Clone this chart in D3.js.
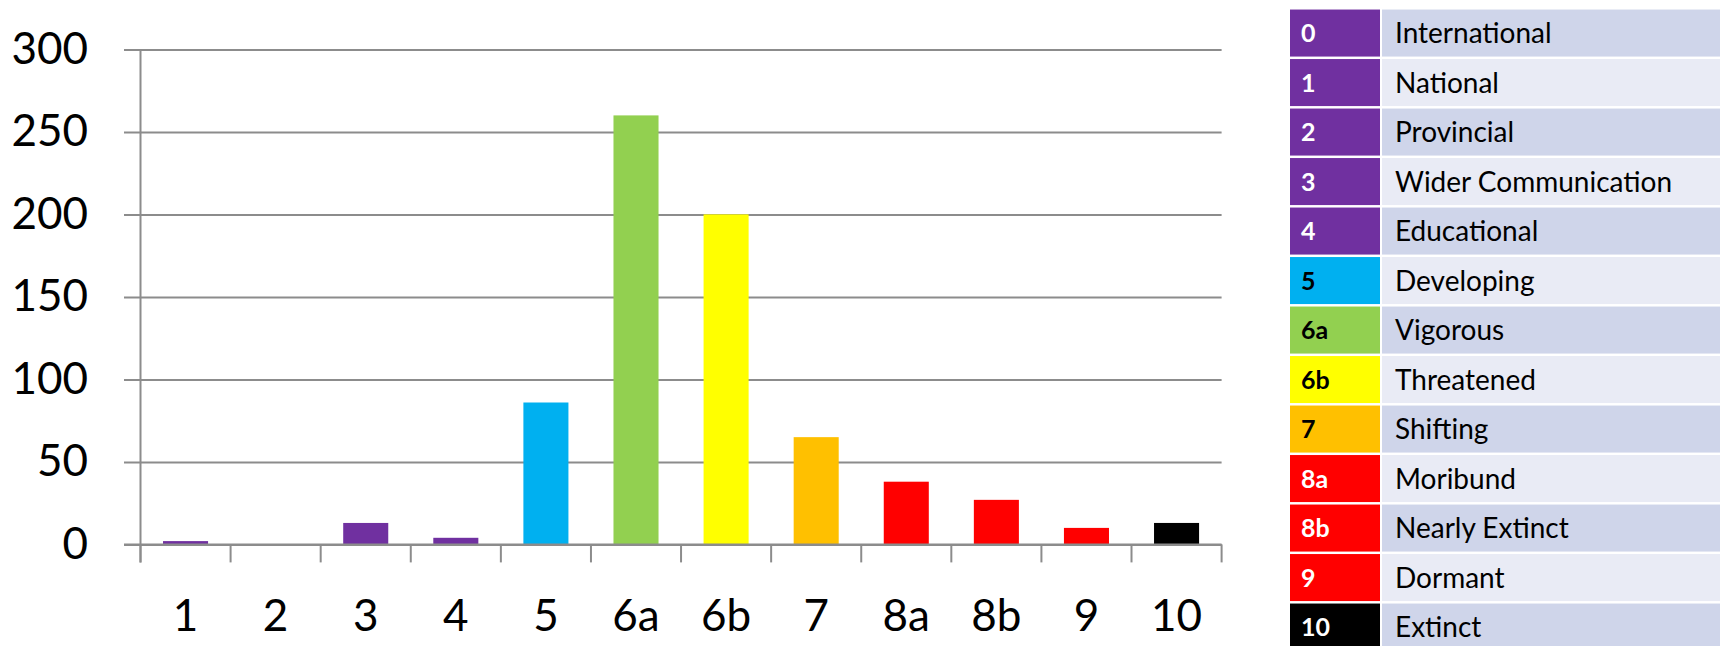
<!DOCTYPE html>
<html>
<head>
<meta charset="utf-8">
<script src="https://cdn.jsdelivr.net/npm/d3@7"></script>
<style>
  html, body { margin: 0; padding: 0; background: #fff; }
  svg { display: block; font-family: Lato, "Open Sans", sans-serif; }
</style>
</head>
<body>
<div id="chart"></div>
<script>
// data
var categories = ["1", "2", "3", "4", "5", "6a", "6b", "7", "8a", "8b", "9", "10"];
var counts = [2, 0, 13, 4, 86, 260, 200, 65, 38, 27, 10, 13];
var yTicks = [0, 50, 100, 150, 200, 250, 300];

// legend table (EGIDS levels)
var legendCodes = ["0", "1", "2", "3", "4", "5", "6a", "6b", "7", "8a", "8b", "9", "10"];
var legendNames = ["International", "National", "Provincial", "Wider Communication", "Educational",
                   "Developing", "Vigorous", "Threatened", "Shifting", "Moribund",
                   "Nearly Extinct", "Dormant", "Extinct"];

// colour for each level
var levelColor = {
  "0": "#7030a0", "1": "#7030a0", "2": "#7030a0", "3": "#7030a0", "4": "#7030a0",
  "5": "#00b0f0", "6a": "#92d050", "6b": "#ffff00", "7": "#ffc000",
  "8a": "#ff0000", "8b": "#ff0000", "9": "#ff0000", "10": "#000000"
};
var darkText = ["5", "6a", "6b", "7"];

// svg container
var svgWidth = 1721;
var svgHeight = 646;

var svg = d3.select("#chart")
            .append("svg")
            .attr("width", svgWidth)
            .attr("height", svgHeight);

// chart area
var plot = { left: 140.5, right: 1221.6, top: 49.4, bottom: 544.4 };
var axisColor = "#8c8c8c";

var yScale = d3.scaleLinear()
               .domain([0, 300])
               .range([plot.bottom, plot.top]);

var xScale = d3.scaleBand()
               .domain(categories)
               .range([plot.left, plot.right])
               .paddingInner(0.5)
               .paddingOuter(0.25);

// gridlines + y labels: axis placed on the right so the ticks run leftwards
var yAxis = d3.axisLeft(yScale)
              .tickValues(yTicks)
              .tickSize(plot.right - 124)
              .tickPadding(36);

var yG = svg.append("g")
            .attr("transform", `translate(${plot.right}, 0)`)
            .call(yAxis);
yG.select(".domain").remove();
yG.selectAll("line").attr("stroke", axisColor).attr("stroke-width", 2);
yG.selectAll("text")
  .attr("font-size", 44)
  .attr("font-family", "Lato, sans-serif")
  .attr("fill", "#000");

// y axis line
svg.append("line")
   .attr("x1", plot.left).attr("x2", plot.left)
   .attr("y1", plot.top).attr("y2", plot.bottom + 18)
   .attr("stroke", axisColor)
   .attr("stroke-width", 2);

// bars
svg.selectAll(".bar")
   .data(counts)
   .enter()
   .append("rect")
   .classed("bar", true)
   .attr("x", (d, i) => xScale(categories[i]))
   .attr("y", d => yScale(d))
   .attr("width", xScale.bandwidth())
   .attr("height", d => yScale(0) - yScale(d))
   .attr("fill", (d, i) => levelColor[categories[i]]);

// category boundary ticks
var boundaries = d3.range(categories.length + 1);
svg.selectAll(".xtick")
   .data(boundaries)
   .enter()
   .append("line")
   .attr("x1", i => plot.left + i * xScale.step())
   .attr("x2", i => plot.left + i * xScale.step())
   .attr("y1", plot.bottom)
   .attr("y2", plot.bottom + 18)
   .attr("stroke", axisColor)
   .attr("stroke-width", 2);

// redraw the zero line on top of the bars
svg.append("line")
   .attr("x1", 124).attr("x2", plot.right)
   .attr("y1", yScale(0)).attr("y2", yScale(0))
   .attr("stroke", axisColor)
   .attr("stroke-width", 2);

// x labels
svg.selectAll(".xlabel")
   .data(categories)
   .enter()
   .append("text")
   .attr("x", d => xScale(d) + xScale.bandwidth() / 2)
   .attr("y", 631)
   .attr("text-anchor", "middle")
   .attr("font-size", 44)
   .attr("fill", "#000")
   .text(d => d);

// legend table
var rowScale = d3.scaleBand()
                 .domain(legendCodes)
                 .range([8.3, 8.3 + 13 * 49.5])
                 .paddingInner(0.05)
                 .paddingOuter(0.025);

var rows = svg.selectAll(".row")
              .data(legendCodes)
              .enter()
              .append("g")
              .attr("transform", d => `translate(0, ${rowScale(d)})`);

rows.append("rect")
    .attr("x", 1290).attr("width", 90)
    .attr("height", rowScale.bandwidth())
    .attr("fill", d => levelColor[d]);

rows.append("rect")
    .attr("x", 1382).attr("width", 338)
    .attr("height", rowScale.bandwidth())
    .attr("fill", (d, i) => i % 2 === 0 ? "#cfd5ea" : "#e9ebf5");

rows.append("text")
    .attr("x", 1301)
    .attr("y", rowScale.bandwidth() / 2 + 9)
    .attr("font-size", 25)
    .attr("font-weight", "bold")
    .attr("fill", d => darkText.indexOf(d) >= 0 ? "#000" : "#fff")
    .text(d => d);

rows.append("text")
    .attr("x", 1395)
    .attr("y", rowScale.bandwidth() / 2 + 10)
    .attr("font-size", 28)
    .attr("fill", "#000")
    .text((d, i) => legendNames[i]);
</script>
</body>
</html>
